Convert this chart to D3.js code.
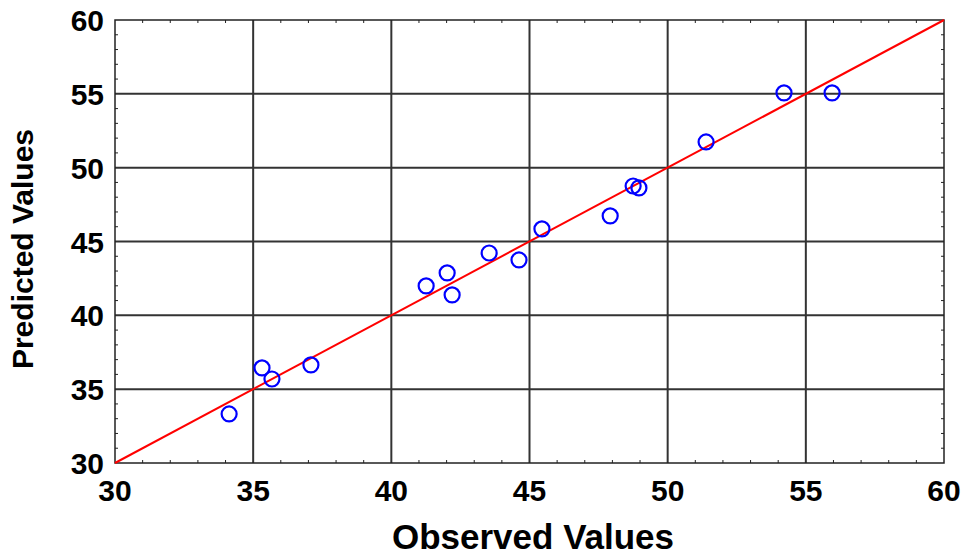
<!DOCTYPE html>
<html>
<head>
<meta charset="utf-8">
<script src="https://cdn.jsdelivr.net/npm/d3@7"></script>
<style>
  body { margin: 0; background: #fff; }
  text { font-family: "Liberation Sans", Arial, sans-serif; font-weight: bold; fill: #000; }
</style>
</head>
<body>
<div id="chart"></div>
<script>
const width = 968;
const height = 557;

// observed vs predicted values
const observed  = [34.13, 35.32, 35.68, 37.09, 41.26, 42.02, 42.2, 43.54, 44.62, 45.45, 47.92, 48.75, 48.96, 51.39, 54.21, 55.95];
const predicted = [33.32, 36.44, 35.69, 36.64, 41.99, 42.87, 41.38, 44.22, 43.75, 45.85, 46.73, 48.76, 48.63, 51.74, 55.06, 55.06];
const majorTicks = [30, 35, 40, 45, 50, 55, 60];
const minorTicks = d3.range(30, 61, 1).filter(v => v % 5 !== 0);
const fitLine = [[30, 30], [60, 60]];

const margin = {left: 115, right: 24, top: 20, bottom: 94};

const x = d3.scaleLinear().domain([30, 60]).range([margin.left, width - margin.right]);
const y = d3.scaleLinear().domain([30, 60]).range([height - margin.bottom, margin.top]);

const svg = d3.select("#chart").append("svg")
  .attr("width", width)
  .attr("height", height);

// grid lines
svg.append("g")
  .selectAll("line")
  .data(majorTicks.slice(1, -1))
  .enter().append("line")
  .attr("x1", d => x(d)).attr("x2", d => x(d))
  .attr("y1", y(30)).attr("y2", y(60))
  .attr("stroke", "#333").attr("stroke-width", 2);

svg.append("g")
  .selectAll("line")
  .data(majorTicks.slice(1, -1))
  .enter().append("line")
  .attr("y1", d => y(d)).attr("y2", d => y(d))
  .attr("x1", x(30)).attr("x2", x(60))
  .attr("stroke", "#333").attr("stroke-width", 2);

// frame
svg.append("rect")
  .attr("x", x(30)).attr("y", y(60))
  .attr("width", x(60) - x(30)).attr("height", y(30) - y(60))
  .attr("fill", "none").attr("stroke", "#222").attr("stroke-width", 1.5);

// minor ticks, pointing inward on all four sides
const tickLen = 3;
const ticks = svg.append("g").attr("stroke", "#222").attr("stroke-width", 1);
minorTicks.forEach(v => {
  ticks.append("line").attr("x1", x(v)).attr("x2", x(v)).attr("y1", y(30)).attr("y2", y(30) - tickLen);
  ticks.append("line").attr("x1", x(v)).attr("x2", x(v)).attr("y1", y(60)).attr("y2", y(60) + tickLen);
  ticks.append("line").attr("y1", y(v)).attr("y2", y(v)).attr("x1", x(30)).attr("x2", x(30) + tickLen);
  ticks.append("line").attr("y1", y(v)).attr("y2", y(v)).attr("x1", x(60)).attr("x2", x(60) - tickLen);
});

// tick labels
svg.append("g")
  .selectAll("text")
  .data(majorTicks)
  .enter().append("text")
  .attr("x", d => x(d))
  .attr("y", y(30) + 38)
  .attr("text-anchor", "middle")
  .style("font-size", "30px")
  .text(d => d);

svg.append("g")
  .selectAll("text")
  .data(majorTicks)
  .enter().append("text")
  .attr("x", x(30) - 11)
  .attr("y", d => y(d) + 11)
  .attr("text-anchor", "end")
  .style("font-size", "30px")
  .text(d => d);

// axis titles
svg.append("text")
  .attr("x", 533)
  .attr("y", 549)
  .attr("text-anchor", "middle")
  .style("font-size", "35px")
  .text("Observed Values");

svg.append("text")
  .attr("transform", "translate(33,249) rotate(-90)")
  .attr("text-anchor", "middle")
  .style("font-size", "30px")
  .text("Predicted Values");

// fit line y = x
svg.append("path")
  .datum(fitLine)
  .attr("d", d3.line().x(d => x(d[0])).y(d => y(d[1])))
  .attr("stroke", "#ff0000")
  .attr("stroke-width", 2)
  .attr("fill", "none");

// points
svg.append("g")
  .selectAll("circle")
  .data(observed.map((o, i) => [o, predicted[i]]))
  .enter().append("circle")
  .attr("cx", d => x(d[0]))
  .attr("cy", d => y(d[1]))
  .attr("r", 7.5)
  .attr("fill", "none")
  .attr("stroke", "#0000ff")
  .attr("stroke-width", 2.2);
</script>
</body>
</html>
